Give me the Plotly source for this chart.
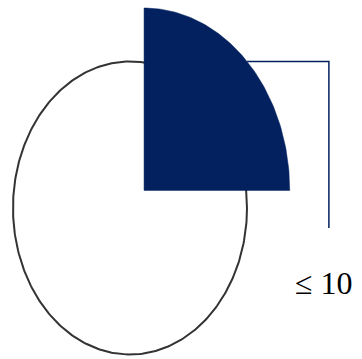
import numpy as np
import plotly.graph_objects as go

# slice shares (percent) - only the highlighted slice carries a label
labels = ["≤ 10", ""]
shares = [25, 75]

NAVY = "#02215E"
OUTLINE = "#333333"

# highlighted slice is pulled out along its bisector and drawn larger
pull = 0.17
grow = 1.245

total = sum(shares)
start_deg = 90  # first slice starts at 12 o'clock, goes clockwise
span_deg = 360 * shares[0] / total
end_deg = start_deg - span_deg
mid = np.radians((start_deg + end_deg) / 2)

fig = go.Figure()

# whole pie as the outlined base
t = np.linspace(0, 2 * np.pi, 361)
fig.add_trace(go.Scatter(
    x=np.cos(t), y=np.sin(t), mode="lines", fill="toself",
    fillcolor="white", line=dict(color=OUTLINE, width=2),
    hoverinfo="skip", showlegend=False
))

# highlighted slice
cx, cy = pull * np.cos(mid), pull * np.sin(mid)
a = np.radians(np.linspace(start_deg, end_deg, 91))
sx = np.concatenate([[cx], cx + grow * np.cos(a), [cx]])
sy = np.concatenate([[cy], cy + grow * np.sin(a), [cy]])
fig.add_trace(go.Scatter(
    x=sx, y=sy, mode="lines", fill="toself", fillcolor=NAVY,
    line=dict(color=NAVY, width=0.5), name=labels[0],
    hoverinfo="name", showlegend=False
))

# leader line from the slice bisector to the label
px, py = cx + grow * np.cos(mid), cy + grow * np.sin(mid)
elbow_x, end_y = 1.70, -0.137
fig.add_trace(go.Scatter(
    x=[px, elbow_x, elbow_x], y=[py, py, end_y], mode="lines",
    line=dict(color=NAVY, width=1.5), hoverinfo="skip", showlegend=False
))

fig.add_annotation(
    x=elbow_x - 0.045, y=-0.51, text=labels[0], showarrow=False,
    font=dict(family="Liberation Serif", size=32, color="#000000"),
    xanchor="center", yanchor="middle"
)

fig.update_xaxes(range=[-1.111, 1.983], visible=False)
fig.update_yaxes(range=[-1.031, 1.420], visible=False)
fig.update_layout(
    width=362, height=359,
    margin=dict(l=0, r=0, t=0, b=0),
    paper_bgcolor="white", plot_bgcolor="white"
)

fig.write_html("out.html", config={"displayModeBar": False},
               post_script="document.body.style.margin='0';")
